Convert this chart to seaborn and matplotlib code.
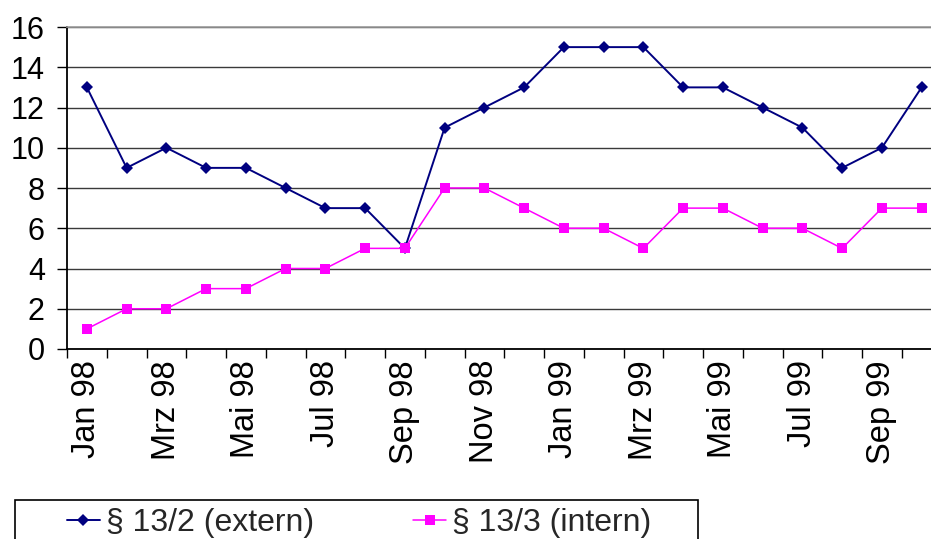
import numpy as np
import pandas as pd
import matplotlib
matplotlib.use("Agg")
import matplotlib.pyplot as plt
from matplotlib.patches import Rectangle
import seaborn as sns

# Monthly counts, Jan 98 – Okt 99
months = ["Jan 98", "Feb 98", "Mrz 98", "Apr 98", "Mai 98", "Jun 98", "Jul 98",
          "Aug 98", "Sep 98", "Okt 98", "Nov 98", "Dez 98", "Jan 99", "Feb 99",
          "Mrz 99", "Apr 99", "Mai 99", "Jun 99", "Jul 99", "Aug 99", "Sep 99",
          "Okt 99"]
extern = [13, 9, 10, 9, 9, 8, 7, 7, 5, 11, 12, 13, 15, 15, 15, 13, 13, 12, 11, 9, 10, 13]
intern = [1, 2, 2, 3, 3, 4, 4, 5, 5, 8, 8, 7, 6, 6, 5, 7, 7, 6, 6, 5, 7, 7]
y_ticks = [0, 2, 4, 6, 8, 10, 12, 14, 16]

label_extern = "§ 13/2 (extern)"
label_intern = "§ 13/3 (intern)"

sns.set_theme(style="white")
plt.rcParams["font.family"] = ["Liberation Sans", "DejaVu Sans"]

df = pd.DataFrame({"pos": np.arange(len(months)), "Monat": months,
                   "extern": extern, "intern": intern})

W, H = 931, 539
fig = plt.figure(figsize=(W / 100, H / 100), dpi=100)
ax = fig.add_axes([67 / W, (H - 349) / H, (W - 67) / W, 322 / H])

sns.lineplot(data=df, x="pos", y="extern", ax=ax, color="#000080",
             marker="D", markersize=6, markeredgewidth=0, linewidth=1.4,
             label=label_extern)
sns.lineplot(data=df, x="pos", y="intern", ax=ax, color="#FF00FF",
             marker="s", markersize=7, markeredgewidth=0, linewidth=1.1,
             label=label_intern)

# month labels on every second category, tick marks between categories
label_pos = np.arange(0, len(months), 2)
ax.set_xticks(label_pos)
ax.set_xticklabels([months[i] for i in label_pos], rotation=90, fontsize=23.5)
ax.set_xticks(np.arange(len(months) + 1) - 0.5, minor=True)
ax.tick_params(axis="x", which="major", length=0, pad=8, colors="black")
ax.tick_params(axis="x", which="minor", length=6.5, width=1, color="black",
               direction="out", bottom=True)

ax.set_yticks(y_ticks)
ax.set_yticklabels([str(v) for v in y_ticks], fontsize=22)
ax.tick_params(axis="y", which="major", length=7, width=1, color="black",
               direction="out", left=True, pad=9, colors="black")

unit = 39.75
ax.set_xlim(-0.5, -0.5 + (W - 67) / unit)
ax.set_ylim(0, 16)
ax.set_xlabel("")
ax.set_ylabel("")

ax.yaxis.grid(True, color="#3a3a3a", linewidth=1)
ax.set_axisbelow(True)
for s in ("left", "bottom"):
    ax.spines[s].set_color("black")
    ax.spines[s].set_linewidth(1.3)
ax.spines["right"].set_visible(False)
ax.spines["top"].set_color("#999999")
ax.spines["top"].set_linewidth(1.2)

handles, labels = ax.get_legend_handles_labels()
ax.legend_.remove()
fig.legend(handles, labels, loc="center left", ncol=2,
           bbox_to_anchor=(67 / W, 1 - 523 / H),
           frameon=False, fontsize=23, handlelength=1.03, handletextpad=0.19,
           columnspacing=3.1, borderpad=0, borderaxespad=0)
fig.patches.append(Rectangle((15 / W, -0.1), (698 - 15) / W, (H - 500) / H + 0.1,
                             transform=fig.transFigure, facecolor="none",
                             edgecolor="black", linewidth=1.2))

fig.savefig("out.png", dpi=100)
